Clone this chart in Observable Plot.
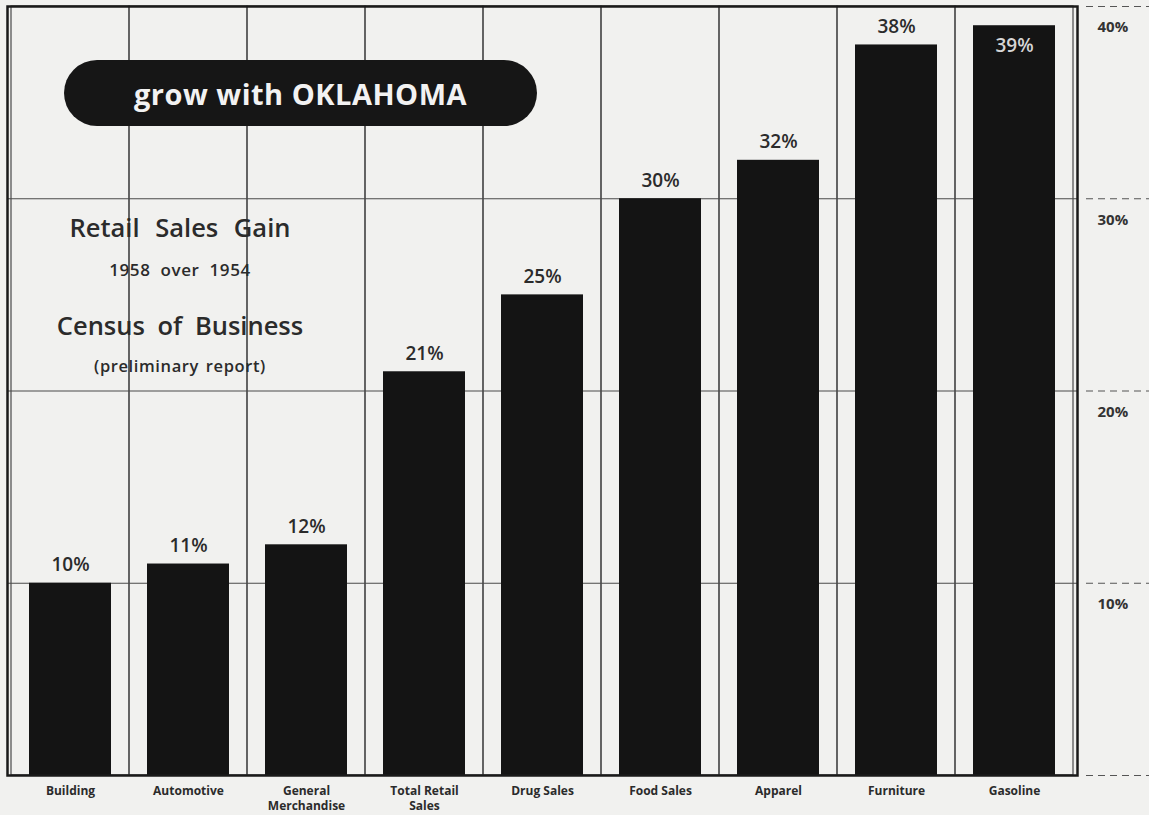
<!DOCTYPE html>
<html><head><meta charset="utf-8">
<script src="https://cdn.jsdelivr.net/npm/d3@7"></script>
<script src="https://cdn.jsdelivr.net/npm/@observablehq/plot@0.6"></script>
<style>
html,body{margin:0;padding:0;background:#f1f1ef;}
#wrap{position:relative;width:1149px;height:815px;overflow:hidden;font-family:"Open Sans",sans-serif;}
.pill{position:absolute;left:64px;top:60px;width:473px;height:66px;border-radius:33px;background:#161616;color:#f2f2f2;font-weight:700;font-size:29px;display:flex;align-items:center;justify-content:center;letter-spacing:0.5px;}
.blk{position:absolute;left:20px;width:320px;text-align:center;color:#2b2b2b;line-height:1;white-space:nowrap;}
</style></head><body><div id="wrap"></div>
<script>
const categories = ["Building","Automotive","General\nMerchandise","Total Retail\nSales","Drug Sales","Food Sales","Apparel","Furniture","Gasoline"];
const gains = [10,11,12,21,25,30,32,38,39];
const labelInside = [false,false,false,false,false,false,false,false,true];
const yTicks = [0,10,20,30,40];
const yLabelTicks = [10,20,30,40];
const gridValues = [10,20,30];
const titleText = "grow with OKLAHOMA";
const blockLines = [
  {text:"Retail Sales Gain", size:25.5, top:215, weight:600, spacing:"9px"},
  {text:"1958 over 1954", size:17, top:261, weight:600, spacing:"5px", letter:"0.6px"},
  {text:"Census of Business", size:25.5, top:312.5, weight:600, spacing:"6px"},
  {text:"(preliminary report)", size:16.5, top:357.5, weight:600, spacing:"2px", letter:"0.6px"}
];
const data = categories.map((c,i)=>({category:c, gain:gains[i], inside:labelInside[i]}));

const plot = Plot.plot({
  width:1149, height:815,
  marginLeft:7, marginRight:72, marginTop:6, marginBottom:40,
  style:{background:"transparent", fontFamily:"Open Sans, sans-serif", color:"#2b2b2b"},
  x:{domain:categories, padding:0, axis:null, label:null},
  y:{domain:[0,40], axis:null, label:null},
  marks:[
    Plot.ruleY(gridValues,{stroke:"#4a4a4a", strokeWidth:1.2}),
    Plot.barY(categories,{x:d=>d, y1:0, y2:40, fill:"none", stroke:"#4a4a4a", strokeWidth:1.2}),
    Plot.barY(data,{x:"category", y:"gain", fill:"#141414", insetLeft:18, insetRight:18}),
    Plot.text(data.filter(d=>!d.inside),{x:"category", y:"gain", text:d=>d.gain+"%", dy:-18, fontSize:19, fontWeight:600, fill:"#2b2b2b"}),
    Plot.text(data.filter(d=>d.inside),{x:"category", y:"gain", text:d=>d.gain+"%", dy:20, fontSize:19, fontWeight:600, fill:"#d6d6d6"}),
    Plot.axisX({anchor:"bottom", label:null, tickSize:0, tickPadding:9, fontSize:12, fontWeight:"bold", lineHeight:1.25, fill:"#2b2b2b"}),
    Plot.axisY(yTicks,{anchor:"right", label:null, tickSize:64, dx:8, stroke:"#555", strokeWidth:1.2, strokeDasharray:"7,5", tickFormat:()=>""}),
    Plot.axisY(yLabelTicks,{anchor:"right", label:null, tickSize:0, tickPadding:20, dy:21, tickFormat:d=>d+"%", fontSize:15, fontWeight:"bold", fill:"#333"}),
    Plot.frame({stroke:"#1a1a1a", strokeWidth:2.5})
  ]
});
const wrap = document.getElementById("wrap");
wrap.appendChild(plot);
const pill = document.createElement("div");
pill.className = "pill";
pill.textContent = titleText;
wrap.appendChild(pill);
for (const l of blockLines) {
  const d = document.createElement("div");
  d.className = "blk";
  d.textContent = l.text;
  d.style.top = l.top+"px";
  d.style.fontSize = l.size+"px";
  d.style.fontWeight = l.weight;
  d.style.wordSpacing = l.spacing;
  if (l.letter) d.style.letterSpacing = l.letter;
  wrap.appendChild(d);
}
</script></body></html>
